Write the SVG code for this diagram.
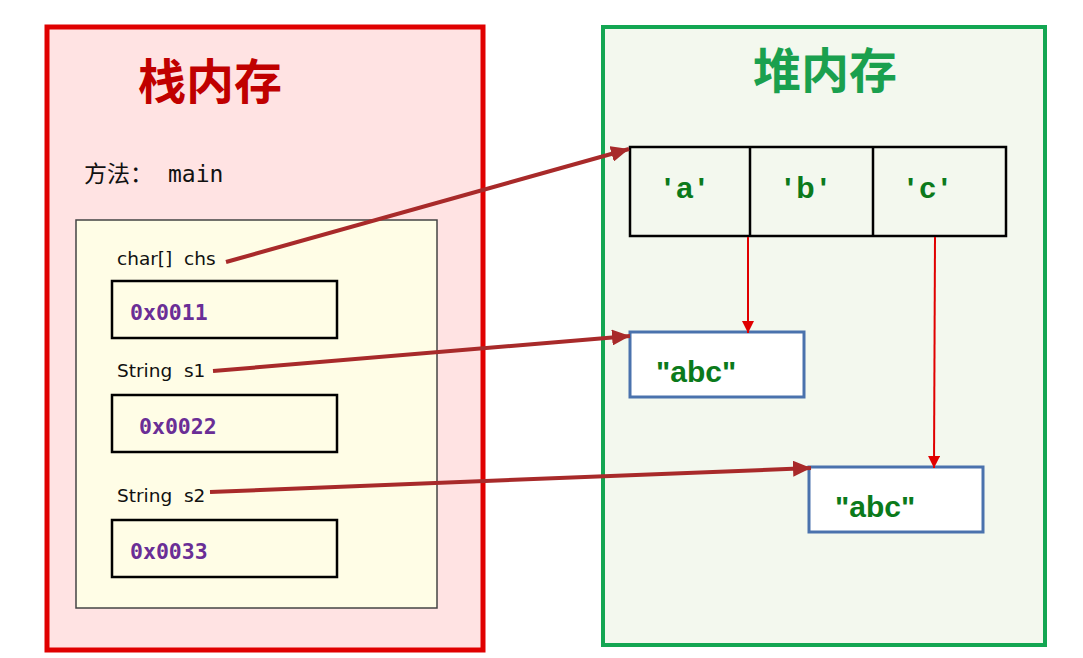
<svg xmlns="http://www.w3.org/2000/svg" width="1083" height="658" viewBox="0 0 1083 658">
<style>
.title{font-family:"Noto Sans CJK SC","Noto Sans",sans-serif;font-weight:bold;font-size:48px}
.lbl{font-family:"DejaVu Sans",sans-serif;font-size:18.5px;fill:#111;white-space:pre}
.addr{font-family:"DejaVu Sans Mono",monospace;font-weight:bold;font-size:21.5px;fill:#6a2e96}
.val{font-family:"Liberation Sans",Arial,sans-serif;font-weight:bold;font-size:30px;fill:#0b7a1b}
.ch{letter-spacing:5px}
.cell{fill:none;stroke:#000;stroke-width:2.5}
.str{fill:#fff;stroke:#4a72ad;stroke-width:3}
.ptr{stroke:#a82a2a;stroke-width:4;fill:none}
.ref{stroke:#e00000;stroke-width:2;fill:none}
</style>
<defs>
<marker id="ah" markerUnits="userSpaceOnUse" markerWidth="20" markerHeight="16" refX="18" refY="8" orient="auto"><path d="M0,0 L18,8 L0,16 Z" fill="#a82a2a"/></marker>
<marker id="ar" markerUnits="userSpaceOnUse" markerWidth="14" markerHeight="12" refX="12" refY="6" orient="auto"><path d="M0,0 L12,6 L0,12 Z" fill="#e00000"/></marker>
</defs>
<rect width="1083" height="658" fill="#fff"/>
<g id="stack">
<rect x="47" y="27" width="436" height="623" fill="#ffe3e3" stroke="#e00000" stroke-width="5"/>
<text class="title" x="210" y="99" text-anchor="middle" fill="#c00000">栈内存</text>
<text x="84" y="182" font-family="'DejaVu Sans Mono','Noto Sans CJK SC',monospace" font-size="23" fill="#111">方法：<tspan x="168">main</tspan></text>
</g>
<g id="frame">
<rect x="76" y="220" width="361" height="388" fill="#fffde6" stroke="#444" stroke-width="1.5"/>
</g>
<g id="var-chs">
<text class="lbl" x="117" y="265" xml:space="preserve">char[]  chs</text>
<rect x="112" y="281" width="225" height="57" class="cell"/>
<text class="addr" x="130" y="320">0x0011</text>
</g>
<g id="var-s1">
<text class="lbl" x="117" y="377" xml:space="preserve">String  s1</text>
<rect x="112" y="395" width="225" height="57" class="cell"/>
<text class="addr" x="139" y="434">0x0022</text>
</g>
<g id="var-s2">
<text class="lbl" x="117" y="502" xml:space="preserve">String  s2</text>
<rect x="112" y="520" width="225" height="57" class="cell"/>
<text class="addr" x="130" y="559">0x0033</text>
</g>
<g id="heap">
<rect x="603" y="27" width="442" height="618" fill="#f3f8ee" stroke="#13a652" stroke-width="4"/>
<text class="title" x="825" y="88" text-anchor="middle" fill="#1aa04e">堆内存</text>
</g>
<g id="array">
<rect x="630" y="147" width="376" height="89" class="cell"/>
<line x1="750" y1="147" x2="750" y2="236" class="cell"/>
<line x1="873" y1="147" x2="873" y2="236" class="cell"/>
<text class="val ch" x="687" y="198" text-anchor="middle">'a'</text>
<text class="val ch" x="808" y="198" text-anchor="middle">'b'</text>
<text class="val ch" x="930" y="198" text-anchor="middle">'c'</text>
</g>
<g id="str1">
<rect x="630" y="332" width="174" height="65" class="str"/>
<text class="val" x="656" y="382">"abc"</text>
</g>
<g id="str2">
<rect x="809" y="467" width="174" height="65" class="str"/>
<text class="val" x="835" y="517">"abc"</text>
</g>
<g id="connectors">
<line x1="226" y1="262" x2="629" y2="149" class="ptr" marker-end="url(#ah)"/>
<line x1="213" y1="371" x2="630" y2="336" class="ptr" marker-end="url(#ah)"/>
<line x1="210" y1="492" x2="811" y2="468" class="ptr" marker-end="url(#ah)"/>
<line x1="748" y1="237" x2="748" y2="333" class="ref" marker-end="url(#ar)"/>
<line x1="935" y1="237" x2="934" y2="468" class="ref" marker-end="url(#ar)"/>
</g>
</svg>
